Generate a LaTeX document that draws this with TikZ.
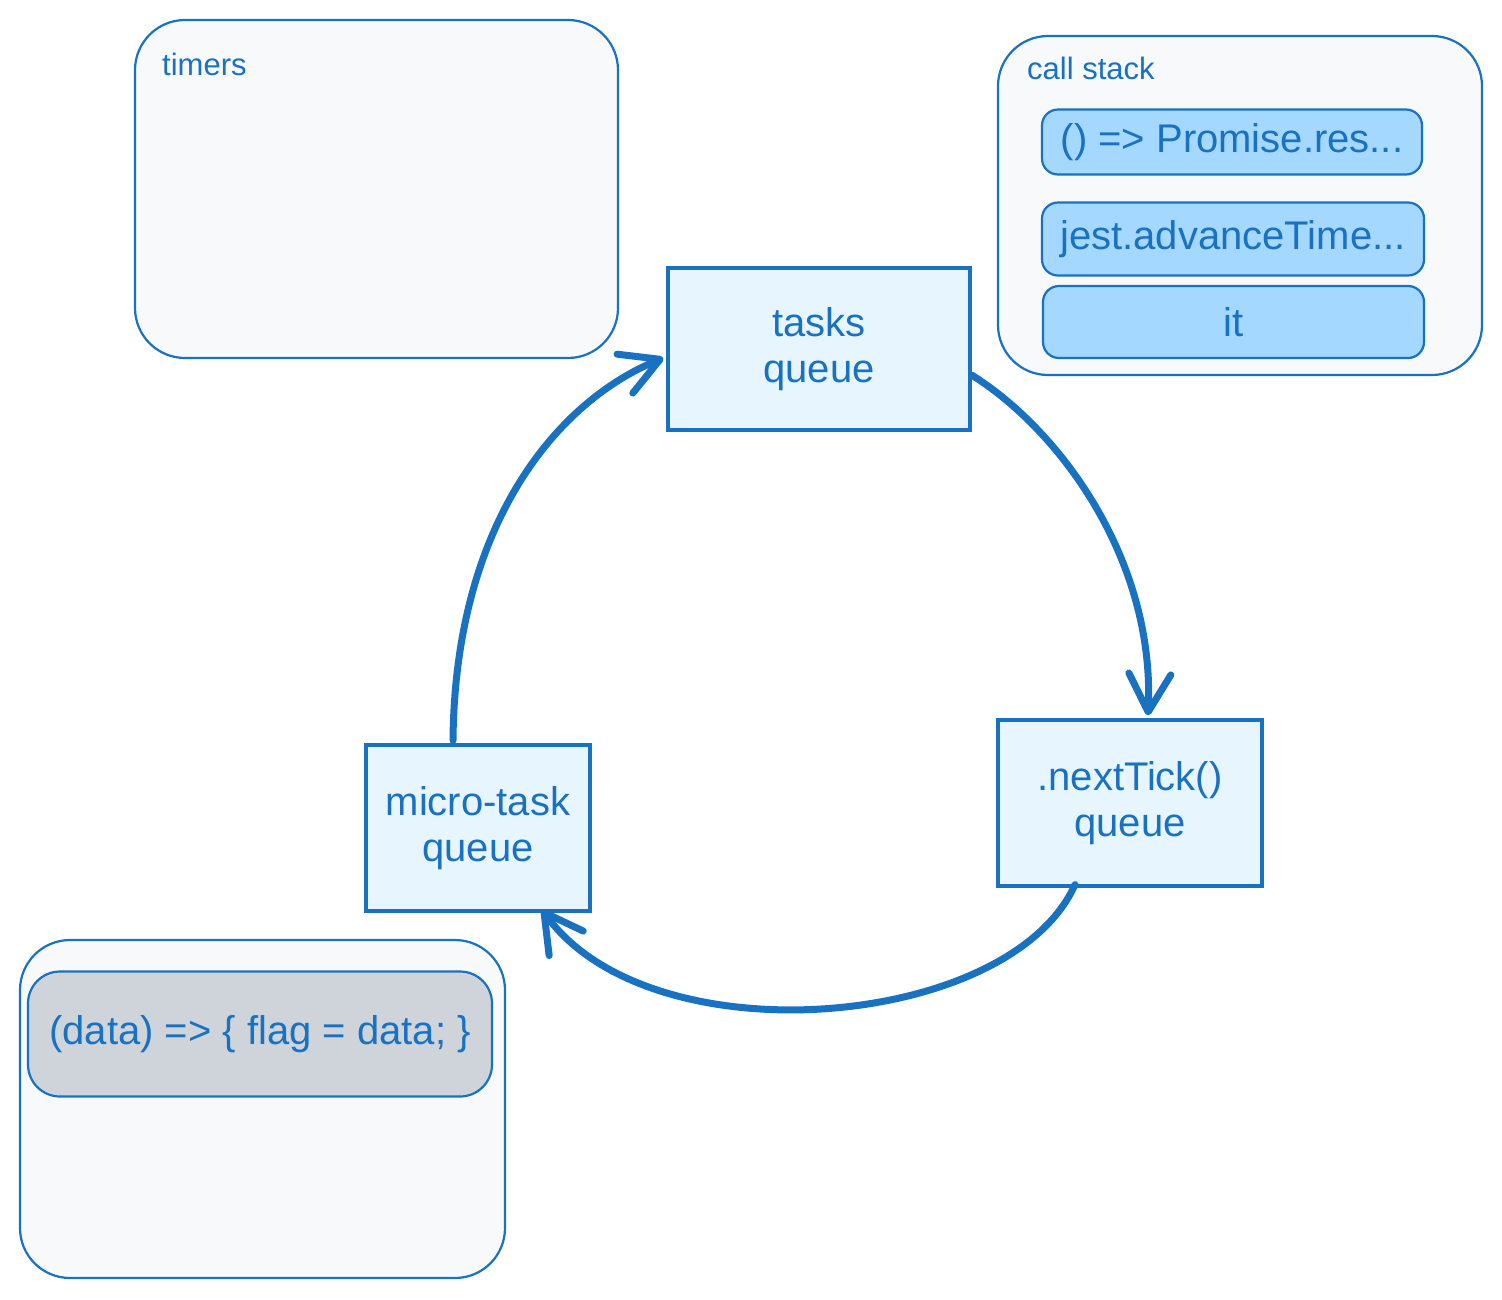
\documentclass[tikz,border=0pt]{standalone}
\usepackage{fontspec}
\setmainfont{Liberation Sans}
\usetikzlibrary{arrows.meta}
\definecolor{sblue}{HTML}{1971C2}
\definecolor{lfill}{HTML}{E7F5FF}
\definecolor{ifill}{HTML}{A5D8FF}
\definecolor{gfill}{HTML}{CED4DA}
\definecolor{cfill}{HTML}{F8F9FA}
\tikzset{
  container/.style={draw=sblue, fill=cfill, line width=2.2pt, rounded corners=50pt, inner sep=0pt},
  queuebox/.style={draw=sblue, fill=lfill, line width=3.2pt, inner sep=0pt, align=center, text=sblue,
    font=\fontsize{40}{46}\selectfont},
  itembox/.style={draw=sblue, fill=ifill, line width=2.2pt, rounded corners=16pt, inner sep=0pt,
    text=sblue, font=\fontsize{40}{46}\selectfont},
  graybox/.style={draw=sblue, fill=gfill, line width=2.2pt, rounded corners=32pt, inner sep=0pt,
    text=sblue, font=\fontsize{40}{46}\selectfont},
  caption/.style={text=sblue, font=\fontsize{31}{36}\selectfont, anchor=west, inner sep=0pt},
  flow/.style={draw=sblue, line width=7pt, line cap=round,
    -{Straight Barb[length=38pt,width=42pt,round,line width=7pt]}}
}
\begin{document}
\begin{tikzpicture}[x=1pt,y=-1pt]
\useasboundingbox (0,0) rectangle (1502,1299);
% containers
\node[container, minimum width=483pt, minimum height=338pt] (timers) at (376.5,189) {};
\node[caption] (timerslbl) at (162,64) {timers};
\node[container, minimum width=484pt, minimum height=339pt] (stack) at (1240,205.5) {};
\node[caption] (stacklbl) at (1027,68) {call stack};
\node[itembox, minimum width=380pt, minimum height=65pt] (item1) at (1232,142) {() => Promise.res...};
\node[itembox, minimum width=382pt, minimum height=73pt] (item2) at (1233,239) {jest.advanceTime...};
\node[itembox, minimum width=381pt, minimum height=72pt] (item3) at (1233.5,322) {it};
\node[container, minimum width=485pt, minimum height=338pt] (bottom) at (262.5,1109) {};
\node[graybox, minimum width=464pt, minimum height=125pt] (cb) at (260,1034) {(data) => \{ flag = data; \}};
% queues
\node[queuebox, minimum width=302pt, minimum height=162pt] (tasks) at (819,349) {tasks\\queue};
\node[queuebox, minimum width=264pt, minimum height=166pt] (tick) at (1130,803) {.nextTick()\\queue};
\node[queuebox, minimum width=224pt, minimum height=166pt] (micro) at (478,828) {micro-task\\queue};
% connectors
\draw[flow] ([xshift=-25pt,yshift=3pt]micro.north) .. controls (455,520) and (560,400) .. ([xshift=-3pt,yshift=-9pt]tasks.west);
\draw[flow] ([yshift=-26pt]tasks.east) .. controls (1060,430) and (1155,560) .. ([xshift=18pt,yshift=3pt]tick.north);
\draw[flow] ([xshift=-55pt,yshift=3pt]tick.south) .. controls (1010,1030) and (650,1060) .. ([xshift=64pt,yshift=3pt]micro.south);
\end{tikzpicture}
\end{document}
